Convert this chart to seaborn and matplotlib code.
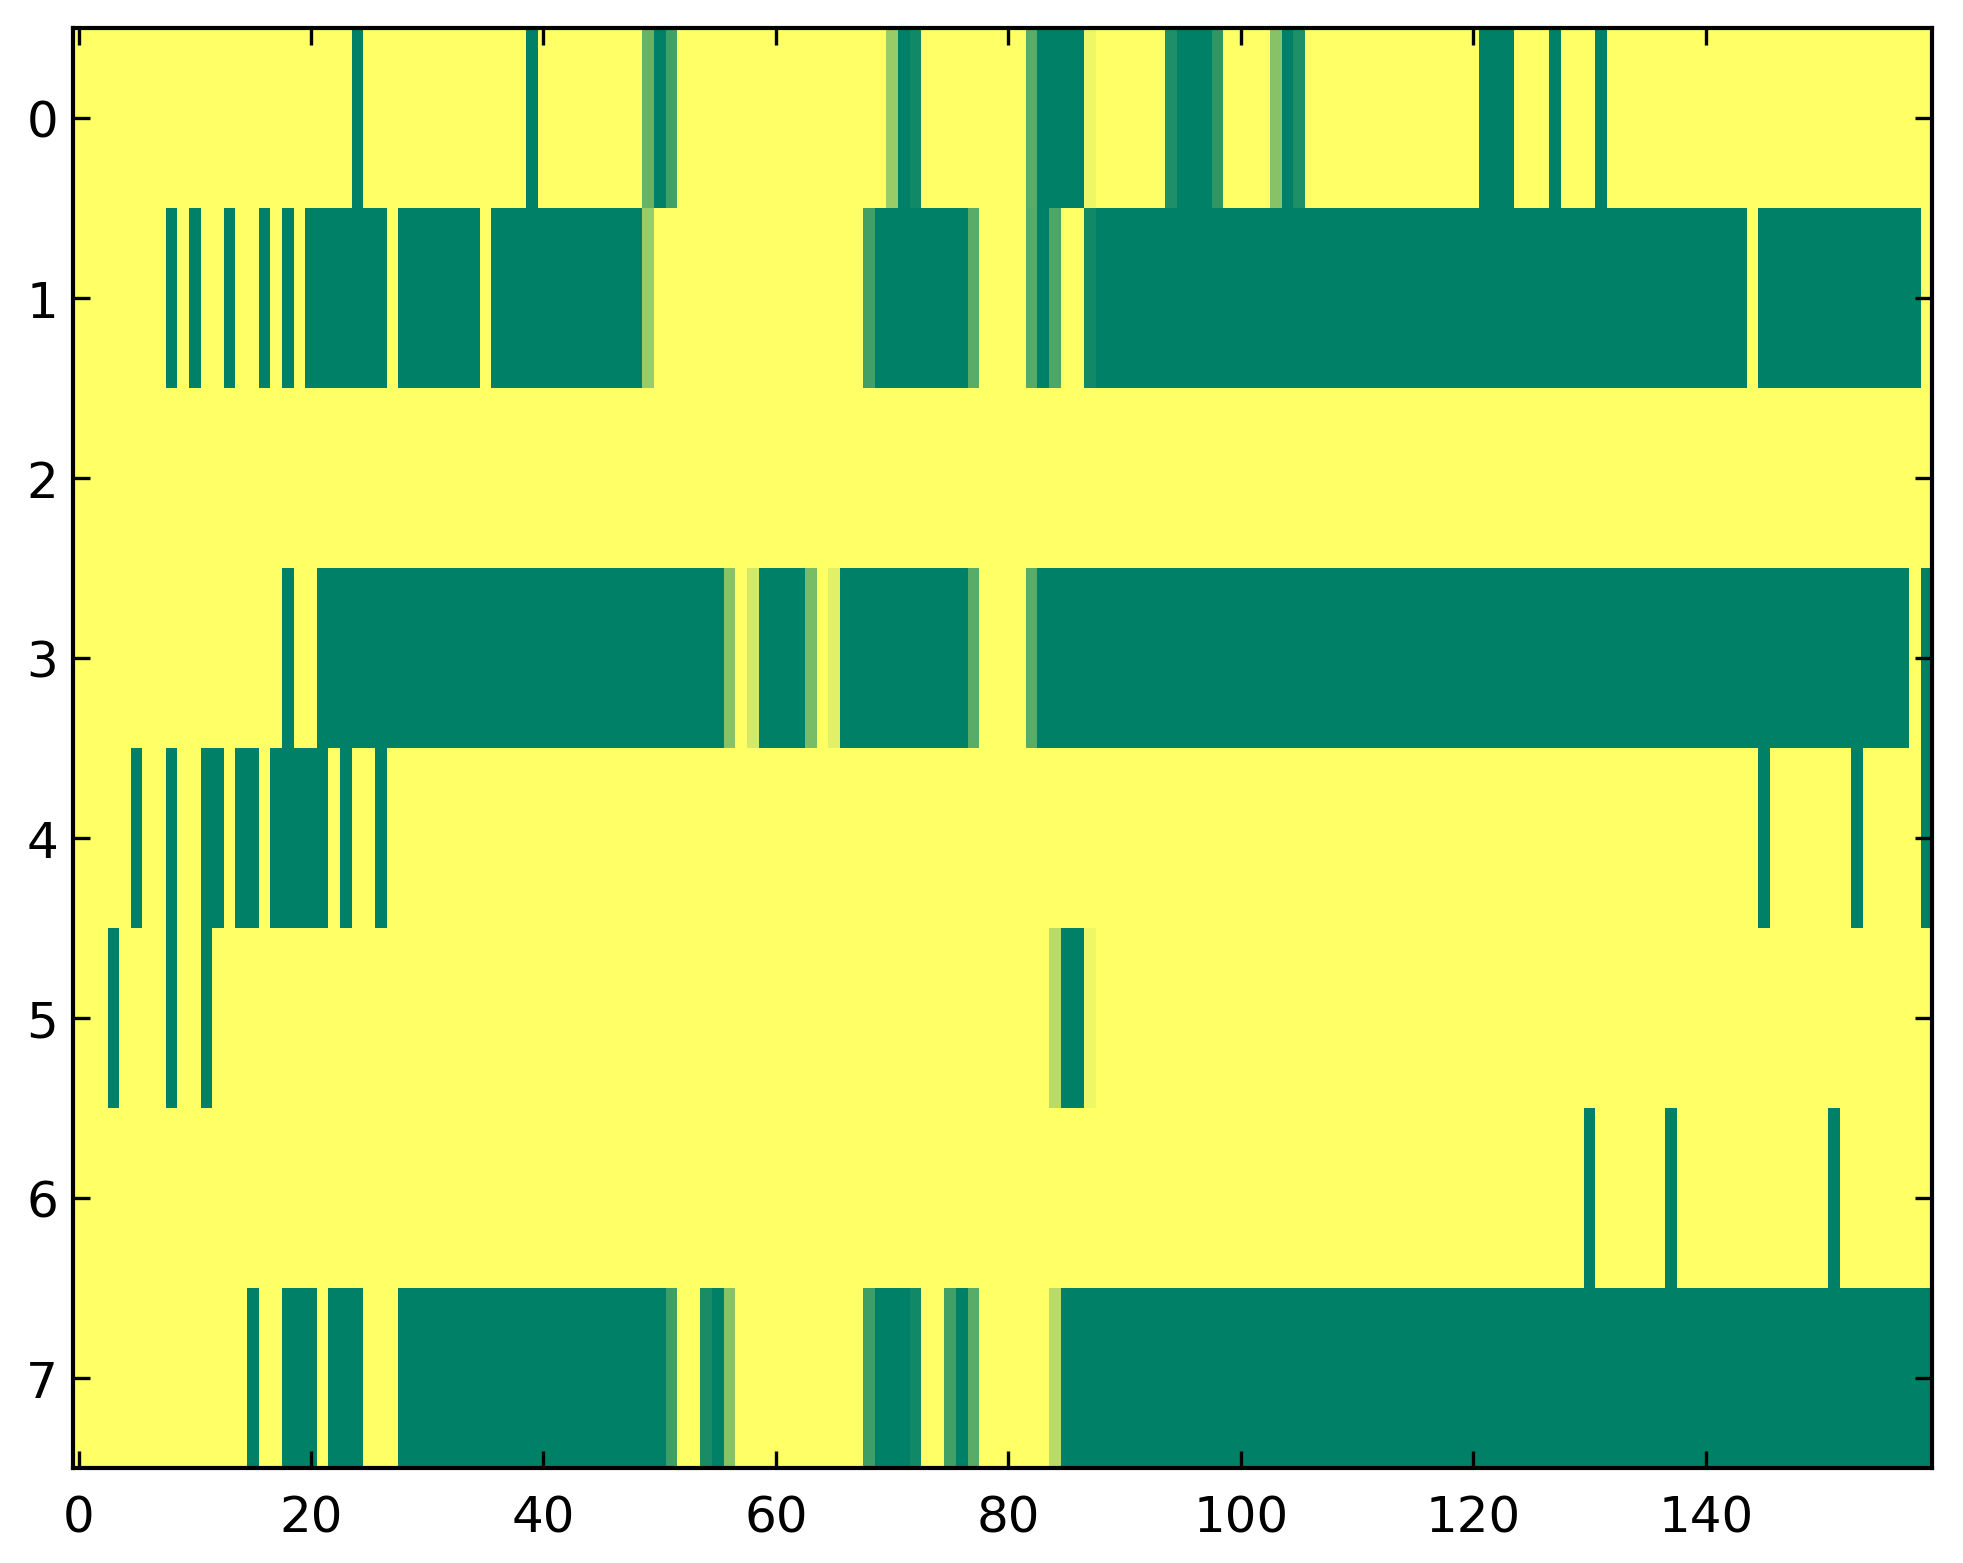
import numpy as np
import matplotlib
matplotlib.use("Agg")
import matplotlib.pyplot as plt
import seaborn as sns

# state values per row (0 = green, 1 = yellow), 160 columns each, 20 per line
row0 = [1, 1, 1, 1, 1, 1, 1, 1, 1, 1, 1, 1, 1, 1, 1, 1, 1, 1, 1, 1,
        1, 1, 1, 1, 0, 1, 1, 1, 1, 1, 1, 1, 1, 1, 1, 1, 1, 1, 1, 0,
        1, 1, 1, 1, 1, 1, 1, 1, 1, .4, 0, .25, 1, 1, 1, 1, 1, 1, 1, 1,
        1, 1, 1, 1, 1, 1, 1, 1, 1, 1, .6, 0, .07, 1, 1, 1, 1, 1, 1, 1,
        1, 1, .35, 0, 0, 0, 0, .93, 1, 1, 1, 1, 1, 1, .12, 0, 0, 0, .18, 1,
        1, 1, 1, .53, 0, .12, 1, 1, 1, 1, 1, 1, 1, 1, 1, 1, 1, 1, 1, 1,
        1, 0, 0, 0, 1, 1, 1, 0, 1, 1, 1, 0, 1, 1, 1, 1, 1, 1, 1, 1,
        1, 1, 1, 1, 1, 1, 1, 1, 1, 1, 1, 1, 1, 1, 1, 1, 1, 1, 1, 1]

row1 = [1, 1, 1, 1, 1, 1, 1, 1, 0, 1, 0, 1, 1, 0, 1, 1, 0, 1, 0, 1,
        0, 0, 0, 0, 0, 0, 0, 1, 0, 0, 0, 0, 0, 0, 0, 1, 0, 0, 0, 0,
        0, 0, 0, 0, 0, 0, 0, 0, 0, .6, 1, 1, 1, 1, 1, 1, 1, 1, 1, 1,
        1, 1, 1, 1, 1, 1, 1, 1, .25, 0, 0, 0, 0, 0, 0, 0, 0, .35, 1, 1,
        1, 1, .33, 0, .3, 1, 1, .07, 0, 0, 0, 0, 0, 0, 0, 0, 0, 0, 0, 0,
        0, 0, 0, 0, 0, 0, 0, 0, 0, 0, 0, 0, 0, 0, 0, 0, 0, 0, 0, 0,
        0, 0, 0, 0, 0, 0, 0, 0, 0, 0, 0, 0, 0, 0, 0, 0, 0, 0, 0, 0,
        0, 0, 0, 0, 1, 0, 0, 0, 0, 0, 0, 0, 0, 0, 0, 0, 0, 0, 0, 1]

row2 = [1] * 160

row3 = [1, 1, 1, 1, 1, 1, 1, 1, 1, 1, 1, 1, 1, 1, 1, 1, 1, 1, 0, 1,
        1, 0, 0, 0, 0, 0, 0, 0, 0, 0, 0, 0, 0, 0, 0, 0, 0, 0, 0, 0,
        0, 0, 0, 0, 0, 0, 0, 0, 0, 0, 0, 0, 0, 0, 0, 0, .53, 1, .83, 0,
        0, 0, 0, .47, 1, .88, 0, 0, 0, 0, 0, 0, 0, 0, 0, 0, 0, .35, 1, 1,
        1, 1, .35, 0, 0, 0, 0, 0, 0, 0, 0, 0, 0, 0, 0, 0, 0, 0, 0, 0,
        0, 0, 0, 0, 0, 0, 0, 0, 0, 0, 0, 0, 0, 0, 0, 0, 0, 0, 0, 0,
        0, 0, 0, 0, 0, 0, 0, 0, 0, 0, 0, 0, 0, 0, 0, 0, 0, 0, 0, 0,
        0, 0, 0, 0, 0, 0, 0, 0, 0, 0, 0, 0, 0, 0, 0, 0, 0, 0, 1, 0]

row4 = [1, 1, 1, 1, 1, 0, 1, 1, 0, 1, 1, 0, 0, 1, 0, 0, 1, 0, 0, 0,
        0, 0, 1, 0, 1, 1, 0, 1, 1, 1, 1, 1, 1, 1, 1, 1, 1, 1, 1, 1,
        1, 1, 1, 1, 1, 1, 1, 1, 1, 1, 1, 1, 1, 1, 1, 1, 1, 1, 1, 1,
        1, 1, 1, 1, 1, 1, 1, 1, 1, 1, 1, 1, 1, 1, 1, 1, 1, 1, 1, 1,
        1, 1, 1, 1, 1, 1, 1, 1, 1, 1, 1, 1, 1, 1, 1, 1, 1, 1, 1, 1,
        1, 1, 1, 1, 1, 1, 1, 1, 1, 1, 1, 1, 1, 1, 1, 1, 1, 1, 1, 1,
        1, 1, 1, 1, 1, 1, 1, 1, 1, 1, 1, 1, 1, 1, 1, 1, 1, 1, 1, 1,
        1, 1, 1, 1, 1, 0, 1, 1, 1, 1, 1, 1, 1, 0, 1, 1, 1, 1, 1, 0]

row5 = [1, 1, 1, 0, 1, 1, 1, 1, 0, 1, 1, 0, 1, 1, 1, 1, 1, 1, 1, 1,
        1, 1, 1, 1, 1, 1, 1, 1, 1, 1, 1, 1, 1, 1, 1, 1, 1, 1, 1, 1,
        1, 1, 1, 1, 1, 1, 1, 1, 1, 1, 1, 1, 1, 1, 1, 1, 1, 1, 1, 1,
        1, 1, 1, 1, 1, 1, 1, 1, 1, 1, 1, 1, 1, 1, 1, 1, 1, 1, 1, 1,
        1, 1, 1, 1, .72, 0, 0, .93, 1, 1, 1, 1, 1, 1, 1, 1, 1, 1, 1, 1,
        1, 1, 1, 1, 1, 1, 1, 1, 1, 1, 1, 1, 1, 1, 1, 1, 1, 1, 1, 1,
        1, 1, 1, 1, 1, 1, 1, 1, 1, 1, 1, 1, 1, 1, 1, 1, 1, 1, 1, 1,
        1, 1, 1, 1, 1, 1, 1, 1, 1, 1, 1, 1, 1, 1, 1, 1, 1, 1, 1, 1]

row6 = [1, 1, 1, 1, 1, 1, 1, 1, 1, 1, 1, 1, 1, 1, 1, 1, 1, 1, 1, 1,
        1, 1, 1, 1, 1, 1, 1, 1, 1, 1, 1, 1, 1, 1, 1, 1, 1, 1, 1, 1,
        1, 1, 1, 1, 1, 1, 1, 1, 1, 1, 1, 1, 1, 1, 1, 1, 1, 1, 1, 1,
        1, 1, 1, 1, 1, 1, 1, 1, 1, 1, 1, 1, 1, 1, 1, 1, 1, 1, 1, 1,
        1, 1, 1, 1, 1, 1, 1, 1, 1, 1, 1, 1, 1, 1, 1, 1, 1, 1, 1, 1,
        1, 1, 1, 1, 1, 1, 1, 1, 1, 1, 1, 1, 1, 1, 1, 1, 1, 1, 1, 1,
        1, 1, 1, 1, 1, 1, 1, 1, 1, 1, 0, 1, 1, 1, 1, 1, 1, 0, 1, 1,
        1, 1, 1, 1, 1, 1, 1, 1, 1, 1, 1, 0, 1, 1, 1, 1, 1, 1, 1, 1]

row7 = [1, 1, 1, 1, 1, 1, 1, 1, 1, 1, 1, 1, 1, 1, 1, 0, 1, 1, 0, 0,
        0, 1, 0, 0, 0, 1, 1, 1, 0, 0, 0, 0, 0, 0, 0, 0, 0, 0, 0, 0,
        0, 0, 0, 0, 0, 0, 0, 0, 0, 0, 0, .24, 1, 1, .1, 0, .53, 1, 1, 1,
        1, 1, 1, 1, 1, 1, 1, 1, .24, 0, 0, 0, .07, 1, 1, .25, 0, .35, 1, 1,
        1, 1, 1, 1, .72, 0, 0, 0, 0, 0, 0, 0, 0, 0, 0, 0, 0, 0, 0, 0,
        0, 0, 0, 0, 0, 0, 0, 0, 0, 0, 0, 0, 0, 0, 0, 0, 0, 0, 0, 0,
        0, 0, 0, 0, 0, 0, 0, 0, 0, 0, 0, 0, 0, 0, 0, 0, 0, 0, 0, 0,
        0, 0, 0, 0, 0, 0, 0, 0, 0, 0, 0, 0, 0, 0, 0, 0, 0, 0, 0, 0]

x_ticks = [0, 20, 40, 60, 80, 100, 120, 140]
y_ticks = [0, 1, 2, 3, 4, 5, 6, 7]

plt.rcParams.update({
    "font.family": "DejaVu Sans",
    "font.size": 12,
    "xtick.direction": "in",
    "ytick.direction": "in",
    "xtick.top": True,
    "ytick.right": True,
    "axes.linewidth": 1.0,
})

grid = np.array([row0, row1, row2, row3, row4, row5, row6, row7], dtype=float)

fig = plt.figure(figsize=(1963 / 300, 1564 / 300), dpi=300, facecolor="white")
ax = fig.add_axes([0.03704, 0.06074, 0.98446 - 0.03704, 0.98165 - 0.06074])

sns.heatmap(grid, ax=ax, cmap="summer", vmin=0, vmax=1, cbar=False,
            linewidths=0, xticklabels=False, yticklabels=False)

ax.set_xticks([t + 0.5 for t in x_ticks])
ax.set_xticklabels([str(t) for t in x_ticks], rotation=0)
ax.set_yticks([t + 0.5 for t in y_ticks])
ax.set_yticklabels([str(t) for t in y_ticks], rotation=0)
ax.tick_params(which="both", direction="in", top=True, right=True,
               bottom=True, left=True, length=4, width=0.8, color="black")
ax.tick_params(axis="x", pad=6)
ax.tick_params(axis="y", pad=3.5)

for s in ax.spines.values():
    s.set_visible(True)
    s.set_color("black")
    s.set_linewidth(1.0)

fig.savefig("out.png", dpi=300, facecolor="white")
